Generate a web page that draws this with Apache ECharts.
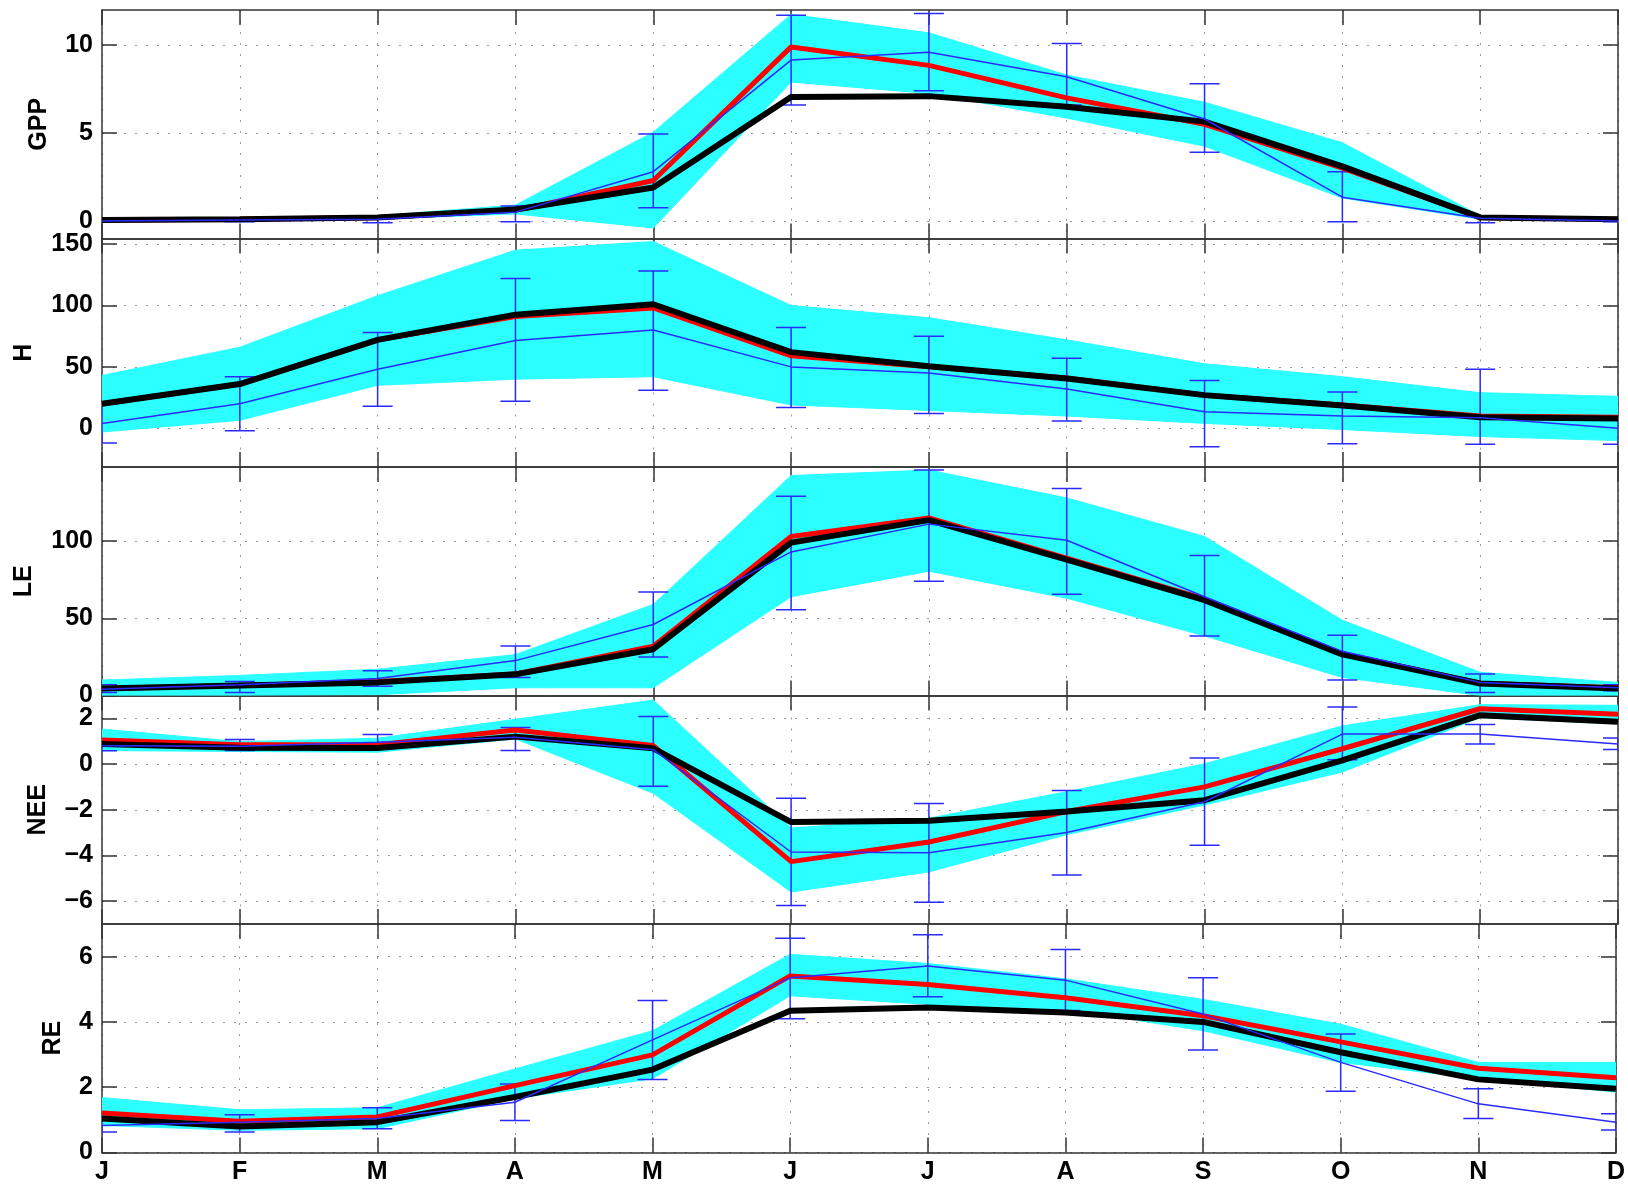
<!DOCTYPE html>
<html>
<head>
<meta charset="utf-8">
<title>GPP / H / LE / NEE / RE</title>
<script src="https://cdn.jsdelivr.net/npm/echarts@6/dist/echarts.min.js"></script>
<style>
html, body { margin: 0; padding: 0; background: #fff; }
#chart { width: 1628px; height: 1188px; }
</style>
</head>
<body>
<div id="chart"></div>
<script>
var months = ['J', 'F', 'M', 'A', 'M', 'J', 'J', 'A', 'S', 'O', 'N', 'D'];

// GPP
var gppTicks = [0, 5, 10];
var gppLo = [0.0, 0.0, 0.1, 0.4, -0.4, 7.9, 7.25, 5.85, 4.25, 1.3, 0.1, 0.0];
var gppHi = [0.1, 0.15, 0.3, 0.9, 5.05, 11.75, 10.7, 8.3, 6.75, 4.45, 0.3, 0.15];
var gppRed = [0.05, 0.1, 0.2, 0.6, 2.3, 9.9, 8.85, 7.0, 5.5, 3.0, 0.2, 0.1];
var gppBlack = [0.05, 0.1, 0.2, 0.65, 1.9, 7.05, 7.1, 6.5, 5.65, 3.1, 0.2, 0.1];
var gppBlue = [0.0, 0.05, 0.1, 0.5, 2.8, 9.15, 9.6, 8.2, 5.8, 1.35, 0.15, 0.0];
var gppErrLo = [-0.05, -0.05, -0.1, -0.05, 0.75, 6.6, 7.4, 6.6, 3.9, -0.05, -0.1, -0.05];
var gppErrHi = [0.05, 0.15, 0.3, 0.85, 4.95, 11.7, 11.8, 10.1, 7.8, 2.8, 0.3, 0.05];

// H
var hTicks = [0, 50, 100, 150];
var hLo = [-3, 6.5, 35, 40, 42, 19, 14.5, 10, 4, -1, -6.7, -10];
var hHi = [43, 66, 108, 145, 152, 100, 90, 72, 52.5, 42, 29, 26];
var hRed = [20, 36, 72, 91, 98, 59, 50, 41, 27, 19, 10, 9];
var hBlack = [20, 36, 72, 92.5, 101, 62, 50.5, 40.5, 27, 18.5, 9, 8];
var hBlue = [4, 20, 48, 71.5, 80, 50, 45, 32, 13.5, 10, 8.5, 0];
var hErrLo = [-12, -2, 18, 22, 31, 17, 12, 6, -15, -12.5, -13, -13];
var hErrHi = [20, 42, 78, 122, 128, 82, 75, 57, 39, 29.5, 48, 9.5];

// LE
var leTicks = [0, 50, 100];
var leLo = [0, 0, 0.5, 5, 5, 64, 80.5, 63, 38.6, 11.7, 0, 0];
var leHi = [10, 13, 17, 26.5, 59, 142.5, 146, 128, 103, 48.7, 15, 8.5];
var leRed = [4.5, 6.5, 9, 14, 32, 103, 115, 89, 62.5, 27, 8, 5];
var leBlack = [4.5, 6.5, 8.5, 13.7, 30, 99, 113.6, 88, 61.7, 26.6, 7.8, 4.5];
var leBlue = [4, 7, 11, 22.6, 46, 93, 111, 100.6, 64, 28.6, 8.5, 5];
var leErrLo = [2, 2, 6, 11.7, 25, 55.5, 74, 65.6, 38.6, 10, 2, 3];
var leErrHi = [7, 9, 16, 32, 67, 129, 146, 134, 90.6, 39, 14, 7];

// NEE
var neeTicks = [-6, -4, -2, 0, 2];
var neeLo = [0.59, 0.55, 0.52, 1.1, -1.28, -5.6, -4.72, -3.09, -1.79, -0.35, 2.03, 1.75];
var neeHi = [1.53, 0.98, 1.13, 1.96, 2.8, -2.8, -2.37, -1.21, 0.01, 1.67, 2.6, 2.57];
var neeRed = [1.05, 0.84, 0.85, 1.49, 0.81, -4.27, -3.41, -2.08, -1.0, 0.67, 2.42, 2.18];
var neeBlack = [0.88, 0.71, 0.7, 1.2, 0.69, -2.54, -2.48, -2.08, -1.58, 0.16, 2.14, 1.85];
var neeBlue = [0.8, 0.78, 0.95, 1.17, 0.63, -3.85, -3.88, -3.0, -1.65, 1.31, 1.31, 0.88];
var neeErrLo = [0.58, 0.59, 0.69, 0.59, -0.97, -6.19, -6.05, -4.86, -3.55, 0.19, 0.88, 0.64];
var neeErrHi = [1.05, 1.07, 1.29, 1.6, 2.08, -1.5, -1.73, -1.16, 0.26, 2.5, 1.73, 1.14];

// RE
var reTicks = [0, 2, 4, 6];
var reLo = [0.83, 0.68, 0.73, 1.65, 2.26, 4.8, 4.54, 4.39, 3.73, 2.76, 2.26, 1.85];
var reHi = [1.68, 1.31, 1.37, 2.56, 3.73, 6.07, 5.79, 5.32, 4.69, 3.93, 2.76, 2.76];
var reRed = [1.21, 0.96, 1.09, 2.05, 2.99, 5.41, 5.15, 4.74, 4.19, 3.39, 2.58, 2.29];
var reBlack = [1.04, 0.8, 0.93, 1.7, 2.54, 4.34, 4.44, 4.29, 4.0, 3.07, 2.24, 1.95];
var reBlue = [0.83, 0.93, 1.04, 1.54, 3.45, 5.35, 5.71, 5.28, 4.24, 2.76, 1.49, 0.93];
var reErrLo = [0.63, 0.63, 0.73, 0.98, 2.24, 4.1, 4.77, 4.35, 3.14, 1.88, 1.04, 0.69];
var reErrHi = [1.04, 1.16, 1.37, 2.1, 4.66, 6.56, 6.67, 6.22, 5.35, 3.63, 1.95, 1.19];

var panels = [
    {name: 'GPP', min: -1, max: 12, ticks: gppTicks, lo: gppLo, hi: gppHi, red: gppRed, black: gppBlack, blue: gppBlue, errLo: gppErrLo, errHi: gppErrHi, gap: 50},
    {name: 'H', min: -31.5, max: 154.5, ticks: hTicks, lo: hLo, hi: hHi, red: hRed, black: hBlack, blue: hBlue, errLo: hErrLo, errHi: hErrHi, gap: 65},
    {name: 'LE', min: 0, max: 148, ticks: leTicks, lo: leLo, hi: leHi, red: leRed, black: leBlack, blue: leBlue, errLo: leErrLo, errHi: leErrHi, gap: 65},
    {name: 'NEE', min: -7, max: 3, ticks: neeTicks, lo: neeLo, hi: neeHi, red: neeRed, black: neeBlack, blue: neeBlue, errLo: neeErrLo, errHi: neeErrHi, gap: 51},
    {name: 'RE', min: 0, max: 7, ticks: reTicks, lo: reLo, hi: reHi, red: reRed, black: reBlack, blue: reBlue, errLo: reErrLo, errHi: reErrHi, gap: 36}
];

var font = 'Liberation Sans, Arial, Helvetica, sans-serif';
var axisColor = '#333';
var blueColor = '#2a2aff';
var cyan = '#2bffff';
var panelTop = 10, panelHeight = 228.5;

function pairs(arr){
    return arr.map(function(v, i){ return [i, v]; });
}

function minusSign(v){
    return String(v).replace('-', '\u2212');
}

// one quad of the min-max band between month k and month k+1
function bandPiece(params, api){
    var a0 = api.coord([api.value(0), api.value(1)]);
    var a1 = api.coord([api.value(0), api.value(2)]);
    var b0 = api.coord([api.value(3), api.value(4)]);
    var b1 = api.coord([api.value(3), api.value(5)]);
    return {
        type: 'polygon',
        shape: {points: [a0, a1, b1, b0]},
        style: {fill: cyan, stroke: cyan, lineWidth: 1}
    };
}

function errorBar(params, api){
    var x = api.value(0);
    var lo = api.coord([x, api.value(1)]);
    var hi = api.coord([x, api.value(2)]);
    var half = 15;
    var style = {stroke: blueColor, lineWidth: 1.5, fill: null};
    return {
        type: 'group',
        children: [
            {type: 'line', shape: {x1: lo[0], y1: lo[1], x2: hi[0], y2: hi[1]}, style: style},
            {type: 'line', shape: {x1: lo[0] - half, y1: lo[1], x2: lo[0] + half, y2: lo[1]}, style: style},
            {type: 'line', shape: {x1: hi[0] - half, y1: hi[1], x2: hi[0] + half, y2: hi[1]}, style: style}
        ]
    };
}

var grids = [], xAxes = [], yAxes = [], series = [];
var lineAxis = {show: true, onZero: false, lineStyle: {color: axisColor, width: 1.5}};
var tickStyle = {color: axisColor, width: 1.5};
var dotted = {show: true, lineStyle: {color: '#9a9a9a', width: 1, type: [2, 9]}};

panels.forEach(function(p, i){
    var last = (i == panels.length - 1);
    grids.push({left: 102, width: 1516, top: panelTop + i * panelHeight, height: panelHeight, show: false});

    xAxes.push({
        type: 'value', gridIndex: i, position: 'bottom', min: 0, max: 11, interval: 1,
        axisLine: lineAxis,
        axisTick: {show: true, inside: true, length: 15, lineStyle: tickStyle},
        axisLabel: {
            show: last, margin: 7, fontSize: 25, fontWeight: 'bold', color: '#000', fontFamily: font,
            formatter: function(v){ return months[v]; }
        },
        splitLine: dotted
    });
    xAxes.push({
        type: 'value', gridIndex: i, position: 'top', min: 0, max: 11, interval: 1,
        axisLine: lineAxis,
        axisTick: {show: true, inside: true, length: 15, lineStyle: tickStyle},
        axisLabel: {show: false},
        splitLine: {show: false}
    });

    yAxes.push({
        type: 'value', gridIndex: i, position: 'left', min: p.min, max: p.max,
        name: p.name, nameLocation: 'middle', nameGap: p.gap,
        nameTextStyle: {fontSize: 25, fontWeight: 'bold', color: '#000', fontFamily: font},
        axisLine: lineAxis,
        axisTick: {show: true, inside: true, length: 15, customValues: p.ticks, lineStyle: tickStyle},
        axisLabel: {
            show: true, customValues: p.ticks, margin: 9, fontSize: 25, fontWeight: 'bold',
            color: '#000', fontFamily: font, formatter: minusSign
        },
        splitLine: dotted
    });
    yAxes.push({
        type: 'value', gridIndex: i, position: 'right', min: p.min, max: p.max,
        axisLine: lineAxis,
        axisTick: {show: true, inside: true, length: 15, customValues: p.ticks, lineStyle: tickStyle},
        axisLabel: {show: false},
        splitLine: {show: false}
    });

    var xi = 2 * i, yi = 2 * i;
    var pieces = [];
    for (var k = 0; k < p.lo.length - 1; k++) {
        pieces.push([k, p.lo[k], p.hi[k], k + 1, p.lo[k + 1], p.hi[k + 1]]);
    }
    series.push({
        type: 'custom', xAxisIndex: xi, yAxisIndex: yi, clip: true, silent: true,
        renderItem: bandPiece,
        encode: {x: [0, 3], y: [1, 2, 4, 5]},
        data: pieces
    });
    series.push({
        type: 'line', xAxisIndex: xi, yAxisIndex: yi, data: pairs(p.red),
        symbol: 'none', lineStyle: {color: '#ff0000', width: 5}
    });
    series.push({
        type: 'line', xAxisIndex: xi, yAxisIndex: yi, data: pairs(p.black),
        symbol: 'none', lineStyle: {color: '#000000', width: 6}
    });
    series.push({
        type: 'line', xAxisIndex: xi, yAxisIndex: yi, data: pairs(p.blue),
        symbol: 'none', lineStyle: {color: blueColor, width: 1.5}
    });
    series.push({
        type: 'custom', xAxisIndex: xi, yAxisIndex: yi, clip: true,
        renderItem: errorBar,
        encode: {x: 0, y: [1, 2]},
        data: p.errLo.map(function(v, k){ return [k, v, p.errHi[k]]; })
    });
});

var chart = echarts.init(document.getElementById('chart'));
chart.setOption({
    animation: false,
    backgroundColor: '#fff',
    grid: grids,
    xAxis: xAxes,
    yAxis: yAxes,
    series: series
});
</script>
</body>
</html>
